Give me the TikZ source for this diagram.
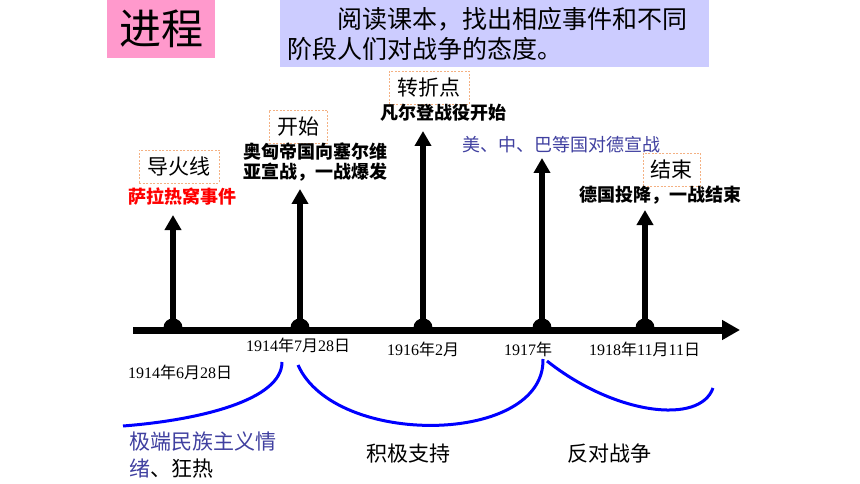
\documentclass[tikz,border=0pt]{standalone}
\usepackage{fontspec}
\setmainfont{Liberation Serif}
\newfontfamily\cjk{Noto Sans CJK SC}
\newfontfamily\ser{Liberation Serif}
\usetikzlibrary{arrows.meta,calc}
\definecolor{pinkfill}{HTML}{FF99CC}
\definecolor{lavfill}{HTML}{CCCCFF}
\definecolor{dashc}{HTML}{F4B183}
\definecolor{slate}{HTML}{4040A0}
\definecolor{arcblue}{HTML}{0000FF}
\newcommand\dnum[1]{{\ser #1}}
\tikzset{
  evt/.style={font=\cjk\bfseries\fontsize{18}{20}\selectfont, inner sep=0, anchor=west, align=left},
  tagbox/.style={draw=dashc, dash pattern=on 2pt off 1.5pt, line width=0.6pt,
    font=\cjk\fontsize{21}{24}\selectfont, inner sep=0, minimum height=33},
  datelbl/.style={font=\cjk\fontsize{16}{18}\selectfont, inner sep=0, anchor=west},
  att/.style={font=\cjk\fontsize{21}{27}\selectfont, inner sep=0, anchor=west, align=left},
  stem/.style={line width=6pt, -{Triangle[width=16pt,length=15pt]}},
  axisline/.style={line width=7pt, -{Triangle[width=19pt,length=18pt]}},
  bluearc/.style={draw=arcblue, line width=3pt},
}
\begin{document}
\begin{tikzpicture}[x=1pt,y=-1pt]
\useasboundingbox (0,0) rectangle (860,484);
\fill[white] (0,0) rectangle (860,484);

% header boxes
\node[fill=pinkfill, anchor=north west, minimum width=108, minimum height=58, inner sep=0,
  font=\cjk\fontsize{42}{46}\selectfont] (title) at (107,0) {进程};
\node[fill=lavfill, anchor=north west, minimum width=429, minimum height=67, inner xsep=7, inner ysep=0,
  text width=415, align=left, font=\cjk\fontsize{25}{30}\selectfont] (task) at (280,0)
  {\hspace*{2em}阅读课本，找出相应事件和不同\\阶段人们对战争的态度。};

% axis
\coordinate (axL) at (133,330);
\coordinate (axR) at (740,330);
\draw[axisline] (axL) -- (axR);

% points on the axis and tips of the arrows
\coordinate (d1) at (173,330);  \coordinate (t1) at (173,215);
\coordinate (d2) at (300,330);  \coordinate (t2) at (300,189);
\coordinate (d3) at (423,330);  \coordinate (t3) at (423,131);
\coordinate (d4) at (542,330);  \coordinate (t4) at (542,158);
\coordinate (d5) at (645,330);  \coordinate (t5) at (645,210);

\foreach \i in {1,...,5}{
  \draw[stem] (d\i) -- (t\i);
  \fill ($(d\i)+(-9.5,-2)$) .. controls ($(d\i)+(-9.5,-14.7)$) and ($(d\i)+(9.5,-14.7)$) .. ($(d\i)+(9.5,-2)$) -- ($(d\i)+(9.5,0)$) -- ($(d\i)+(-9.5,0)$) -- cycle;
}

% stage tags
\node[tagbox, minimum width=80] (tag1) at (179,166.5) {导火线};
\node[tagbox, minimum width=58] (tag2) at (298,126.5) {开始};
\node[tagbox, minimum width=80] (tag3) at (429,88) {转折点};
\node[tagbox, minimum width=57] (tag5) at (671.5,169.5) {结束};

% events
\node[evt, text=red] (e1) at (128,197) {萨拉热窝事件};
\node[evt] (e2) at (243,162) {奥匈帝国向塞尔维\\[0pt]亚宣战，一战爆发};
\node[evt] (e3) at (380,113) {凡尔登战役开始};
\node[evt, text=slate, font=\cjk\fontsize{18}{20}\selectfont] (e4) at (462,145) {美、中、巴等国对德宣战};
\node[evt] (e5) at (579,195) {德国投降，一战结束};

% dates
\node[datelbl] (dt2) at (246,345) {\dnum{1914}年\dnum{7}月\dnum{28}日};
\node[datelbl] (dt3) at (387,349) {\dnum{1916}年\dnum{2}月};
\node[datelbl] (dt4) at (504,349) {\dnum{1917}年};
\node[datelbl] (dt5) at (589,349) {\dnum{1918}年\dnum{11}月\dnum{11}日};
\node[datelbl] (dt1) at (128,372) {\dnum{1914}年\dnum{6}月\dnum{28}日};

% blue arcs
\coordinate (a1s) at (123,426); \coordinate (a1e) at (282,362);
\coordinate (a2s) at (298,365); \coordinate (a2e) at (543,359);
\coordinate (a3s) at (547,361); \coordinate (a3e) at (713,388);
\draw[bluearc] (a1s) .. controls (200,420) and (282,400) .. (a1e);
\draw[bluearc] (a2s) .. controls (335,448) and (545,445) .. (a2e);
\draw[bluearc] (a3s) .. controls (615,415) and (700,425) .. (a3e);

% attitudes
\node[att] (att1) at (129,455.5) {\textcolor{slate}{极端民族主义情}\\\textcolor{slate}{绪}、狂热};
\node[att] (att2) at (366,454) {积极支持};
\node[att] (att3) at (567,454) {反对战争};
\end{tikzpicture}
\end{document}
